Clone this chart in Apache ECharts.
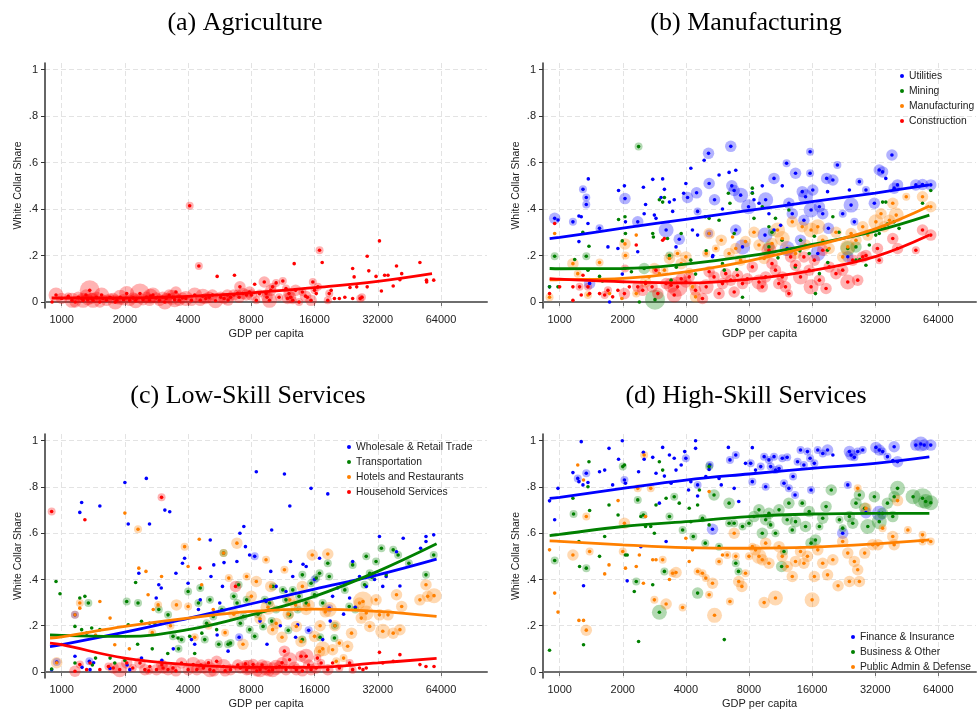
<!DOCTYPE html>
<html><head><meta charset="utf-8">
<script src="https://cdn.jsdelivr.net/npm/echarts@6/dist/echarts.min.js"></script>
<style>html,body{margin:0;padding:0;background:#fff}#c{width:977px;height:710px}</style>
</head><body><div id="c"></div>
<script>
// ---------- tick labels ----------
const xTicks = [1000, 2000, 4000, 8000, 16000, 32000, 64000];
const yTicks = [0, 0.2, 0.4, 0.6, 0.8, 1];

// ---------- data: [GDP per capita, white collar share, size class] ----------
const agriculture = [[900,0.0,0],[940,0.03,3],[1000,0.015,2],[1075,0.024,1],[1120,0.007,3],[1160,0.0,2],[1200,0.02,2],[1245,0.015,1],[1265,0.007,3],[1305,0.03,2],[1360,0.05,4],[1390,0.015,2],[1410,0.007,3],[1465,0.02,2],[1520,0.0,2],[1575,0.015,1],[1635,0.007,2],[1700,0.02,1],[1760,0.015,2],[1830,0.007,1],[1900,0.02,3],[1970,0.01,2],[2040,0.036,3],[2110,0.007,2],[2190,0.017,2],[2270,0.015,1],[2360,0.036,4],[2440,0.01,2],[2530,0.02,2],[2620,0.007,2],[2720,0.03,3],[2820,0.017,2],[2920,0.007,2],[3030,0.02,2],[3140,0.015,2],[3250,0.03,2],[3370,0.02,3],[3500,0.043,2],[3630,0.007,2],[3760,0.017,2],[3900,0.015,3],[4070,0.414,1],[4150,0.007,2],[4300,0.03,3],[4500,0.155,1],[4570,0.007,2],[4860,0.015,2],[5040,0.02,2],[5220,0.03,2],[5500,0.11,0],[5720,0.02,2],[5930,0.015,2],[6150,0.03,2],[6370,0.02,1],[6600,0.03,2],[6650,0.115,0],[6880,0.036,1],[7060,0.065,2],[7300,0.036,2],[7570,0.03,2],[7850,0.043,2],[8300,0.076,0],[8450,0.007,1],[8750,0.036,1],[9220,0.086,2],[9400,0.036,1],[9760,0.007,3],[9900,0.05,2],[10100,0.065,1],[10500,0.082,1],[10850,0.02,1],[11300,0.09,1],[11700,0.058,1],[11900,0.015,2],[12100,0.036,2],[12600,0.007,1],[12800,0.165,0],[13000,0.05,2],[13500,0.0,1],[14000,0.043,1],[14800,0.02,0],[15400,0.007,2],[15700,0.086,1],[16000,0.05,1],[16300,0.036,0],[16600,0.065,1],[16900,0.223,1],[17400,0.17,0],[18500,0.007,1],[18800,0.036,1],[19200,0.05,0],[19900,0.015,0],[21000,0.015,0],[22300,0.02,0],[23600,0.062,0],[24300,0.144,0],[24700,0.108,0],[24300,0.015,0],[25400,0.065,0],[26400,0.015,1],[26900,0.02,1],[28500,0.197,0],[29000,0.134,0],[28500,0.065,0],[31400,0.11,0],[32600,0.263,0],[33300,0.047,0],[34500,0.115,0],[35800,0.115,0],[37900,0.069,0],[39300,0.155,0],[40800,0.096,0],[41600,0.122,0],[50800,0.17,0],[54600,0.094,0],[54700,0.086,0],[59100,0.094,0],[1330,0.01,2],[1550,0.03,3],[1800,0.0,3],[2250,0.005,3],[2650,0.025,3],[3100,0.0,3],[3450,0.01,3],[4700,0.025,3],[5400,0.005,3],[6200,0.008,2],[7000,0.02,2],[8000,0.03,2],[9500,0.02,2],[12300,0.02,2],[14500,0.025,2]];

const utilities = [[947,0.36,2],[982,0.353,0],[1157,0.345,1],[1236,0.37,0],[1268,0.367,0],[1292,0.485,1],[1340,0.45,1],[1340,0.42,1],[1370,0.53,0],[1365,0.338,0],[1236,0.26,0],[1550,0.317,1],[1700,0.237,0],[1896,0.23,0],[1910,0.48,0],[2037,0.5,0],[2050,0.445,2],[2060,0.345,0],[2358,0.345,2],[2358,0.216,0],[2509,0.494,0],[2530,0.38,0],[2570,0.42,0],[2780,0.528,0],[2830,0.374,0],[2882,0.36,0],[3100,0.53,0],[3160,0.485,0],[3220,0.31,3],[3045,0.45,0],[3340,0.43,0],[3460,0.39,0],[3520,0.44,0],[3590,0.237,0],[3720,0.27,2],[3905,0.468,0],[4000,0.51,0],[4075,0.45,2],[4225,0.576,0],[4500,0.47,2],[4300,0.31,0],[4550,0.288,0],[4550,0.39,1],[4890,0.61,0],[5130,0.64,2],[5165,0.51,2],[5165,0.295,1],[5360,0.195,0],[5480,0.44,2],[5760,0.547,0],[5980,0.40,0],[6430,0.558,0],[6550,0.67,2],[6625,0.5,2],[6920,0.567,0],[6795,0.48,2],[7300,0.46,3],[7450,0.237,3],[6920,0.31,2],[7960,0.41,3],[8300,0.47,0],[8450,0.44,0],[8930,0.425,0],[9260,0.5,0],[9540,0.288,3],[9610,0.44,3],[9960,0.38,0],[10530,0.532,2],[10530,0.31,0],[11330,0.33,0],[11530,0.5,0],[12090,0.597,1],[12170,0.23,3],[12400,0.425,2],[12870,0.38,2],[13340,0.554,2],[14090,0.266,2],[14360,0.475,2],[14620,0.352,2],[14890,0.453,3],[15650,0.647,1],[15650,0.554,1],[15820,0.396,3],[16120,0.482,2],[17030,0.209,3],[17340,0.41,2],[17980,0.38,2],[18780,0.532,2],[18960,0.475,0],[19140,0.317,2],[20100,0.525,2],[21120,0.59,1],[22390,0.38,1],[23670,0.195,2],[24100,0.482,0],[24550,0.417,3],[25450,0.345,1],[26900,0.518,1],[28910,0.482,1],[31700,0.425,2],[33450,0.568,2],[34700,0.56,2],[35950,0.532,0],[38450,0.633,2],[39400,0.49,2],[40880,0.504,2],[50000,0.504,2],[53800,0.506,2],[58900,0.504,2],[895,0.065,0],[1390,0.08,2],[1730,0.0,0],[1990,0.12,0],[5380,0.2,0]];

const mining = [[947,0.197,1],[895,0.065,0],[982,0.065,0],[1180,0.183,0],[1290,0.30,0],[1340,0.197,1],[1365,0.137,0],[1380,0.24,0],[1550,0.11,0],[1910,0.355,0],[1990,0.263,0],[2050,0.367,0],[2060,0.295,0],[2380,0.669,1],[2400,0.0,0],[2530,0.144,2],[2780,0.295,0],[2800,0.28,0],[2850,0.01,4],[2990,0.44,0],[3100,0.43,0],[3160,0.45,0],[3340,0.2,1],[3270,0.273,0],[3400,0.094,0],[3800,0.295,0],[4220,0.18,0],[4450,0.12,0],[4950,0.367,0],[5165,0.36,0],[5760,0.352,0],[5980,0.165,0],[6100,0.137,0],[6380,0.468,0],[6490,0.425,0],[6800,0.295,0],[7450,0.02,0],[8300,0.49,0],[8300,0.468,0],[8450,0.36,0],[9260,0.41,0],[9960,0.324,0],[10300,0.3,1],[10700,0.36,0],[11500,0.266,0],[12400,0.396,0],[13300,0.151,0],[14100,0.266,0],[15500,0.209,0],[16400,0.283,0],[16600,0.036,0],[17340,0.122,0],[18960,0.223,0],[20100,0.367,0],[23670,0.23,3],[25900,0.18,0],[27000,0.183,0],[28900,0.158,0],[30000,0.245,0],[32200,0.288,0],[33450,0.295,0],[34700,0.43,0],[35950,0.43,0],[36600,0.335,0],[39400,0.345,0],[41600,0.317,0],[53800,0.425,0],[58900,0.48,0],[25900,0.237,2],[9960,0.237,2],[7000,0.14,0],[11000,0.19,0],[14000,0.22,0],[5000,0.22,0],[3600,0.15,0],[2200,0.13,0],[1600,0.09,0],[19000,0.17,0],[21500,0.3,0]];

const manufacturing = [[895,0.02,1],[947,0.295,0],[1157,0.165,2],[1220,0.122,1],[1365,0.03,1],[1550,0.17,1],[1730,0.036,0],[1980,0.015,0],[2050,0.25,2],[2060,0.2,1],[2320,0.288,0],[2320,0.036,1],[2570,0.086,2],[2670,0.108,0],[2830,0.144,2],[2990,0.122,0],[3160,0.137,1],[3340,0.187,2],[3650,0.209,1],[3800,0.165,2],[4000,0.194,2],[4150,0.13,1],[4300,0.065,1],[4450,0.022,2],[5000,0.209,1],[5165,0.295,2],[5560,0.23,1],[5900,0.266,2],[6430,0.209,2],[6680,0.28,0],[6920,0.23,2],[7300,0.18,2],[7700,0.26,2],[8450,0.3,2],[8930,0.245,2],[9450,0.187,2],[9960,0.209,2],[10300,0.252,2],[10950,0.31,3],[11530,0.273,3],[12170,0.223,2],[12870,0.345,2],[13340,0.209,2],[14360,0.324,2],[14890,0.245,2],[15820,0.31,3],[17030,0.324,3],[17980,0.266,2],[19300,0.23,2],[20800,0.3,2],[22390,0.194,2],[23670,0.237,3],[24550,0.295,2],[25900,0.266,2],[27900,0.324,2],[29500,0.288,2],[32250,0.345,3],[34100,0.38,2],[35300,0.324,2],[37400,0.352,2],[38800,0.425,2],[40300,0.374,3],[45000,0.453,1],[53800,0.453,2],[58900,0.41,2]];

const construction = [[895,0.036,0],[947,0.338,0],[1000,0.065,0],[1157,0.007,0],[1157,0.065,0],[1245,0.065,1],[1268,0.03,0],[1292,0.115,0],[1365,0.065,1],[1390,0.036,0],[1550,0.036,0],[1640,0.03,1],[1700,0.05,1],[1790,0.022,0],[1896,0.05,0],[2037,0.036,2],[2050,0.144,1],[2150,0.065,0],[2320,0.245,0],[2358,0.065,2],[2490,0.05,2],[2570,0.079,0],[2760,0.065,2],[2880,0.137,1],[2940,0.036,2],[3100,0.266,0],[3160,0.273,0],[3220,0.079,2],[3400,0.072,3],[3520,0.03,3],[3650,0.065,4],[3800,0.1,2],[4000,0.086,2],[4150,0.108,2],[4450,0.05,2],[4800,0.015,2],[5000,0.065,3],[5165,0.13,2],[5450,0.108,2],[5760,0.036,2],[5980,0.079,2],[6200,0.122,2],[6550,0.094,2],[6800,0.043,2],[7050,0.115,2],[7450,0.079,2],[7850,0.1,2],[8300,0.151,2],[8930,0.086,3],[9260,0.065,2],[9610,0.108,2],[9960,0.223,3],[10300,0.165,2],[10700,0.137,2],[11100,0.079,2],[11530,0.108,2],[11950,0.065,2],[12400,0.036,1],[12640,0.194,2],[13340,0.158,2],[14090,0.108,3],[14620,0.194,2],[15500,0.137,2],[15820,0.065,3],[16400,0.18,2],[17340,0.094,2],[17980,0.223,2],[18650,0.058,2],[19300,0.151,2],[20800,0.122,2],[22390,0.137,2],[23670,0.086,3],[25000,0.18,2],[26400,0.094,2],[27900,0.194,2],[28900,0.2,2],[32800,0.23,2],[33450,0.18,1],[38800,0.273,2],[40900,0.23,2],[50000,0.223,1],[53800,0.31,2],[58900,0.288,2]];

const wholesale = [[896,0.01,0],[947,0.043,1],[1157,0.068,0],[1220,0.69,0],[1245,0.733,0],[1157,0.247,1],[1355,0.046,1],[1365,0.01,0],[1520,0.718,0],[2000,0.819,0],[2075,0.64,0],[2110,0.01,0],[2330,0.427,0],[2530,0.837,0],[2620,0.64,0],[2820,0.32,0],[2900,0.377,0],[2980,0.363,0],[3100,0.70,0],[3270,0.693,0],[3500,0.427,0],[3760,0.47,0],[3850,0.492,0],[4000,0.384,0],[4150,0.14,0],[4480,0.27,0],[4570,0.312,0],[5100,0.571,0],[5140,0.413,0],[5300,0.463,0],[5660,0.298,0],[5930,0.473,0],[5830,0.37,0],[6830,0.478,0],[7060,0.6,0],[7370,0.629,0],[7500,0.542,0],[7850,0.506,0],[8300,0.5,1],[8450,0.866,0],[9400,0.305,0],[9900,0.435,0],[10000,0.614,0],[10500,0.37,0],[11500,0.856,0],[11700,0.348,0],[12200,0.718,0],[12300,0.478,0],[12600,0.413,0],[13300,0.204,0],[14100,0.466,0],[14600,0.456,0],[15400,0.794,0],[16000,0.4,1],[16900,0.492,0],[18500,0.77,0],[18800,0.276,1],[19500,0.327,0],[20600,0.363,0],[23500,0.32,0],[24300,0.478,0],[26200,0.413,0],[28200,0.37,0],[30900,0.4,0],[32600,0.586,0],[33800,0.37,0],[35100,0.413,0],[39300,0.52,0],[40800,0.372,0],[42300,0.578,0],[51200,0.535,0],[54300,0.586,0],[54300,0.564,0],[59100,0.593,0],[1250,0.02,0],[1420,0.04,0],[1700,0.015,0],[2050,0.03,0],[2400,0.06,0],[3000,0.05,0],[3400,0.1,0],[4300,0.12,0],[5500,0.16,0],[6200,0.09,0],[7000,0.15,1],[8800,0.22,0],[9500,0.12,0],[11000,0.2,0],[13000,0.15,0],[15000,0.18,1],[17500,0.14,0],[19000,0.22,0],[22000,0.25,0],[25000,0.28,0]];

const transportation = [[896,0.013,0],[940,0.391,0],[982,0.338,0],[1157,0.197,0],[1157,0.039,0],[1220,0.32,0],[1290,0.327,0],[1340,0.298,1],[1245,0.183,0],[1315,0.168,0],[1390,0.19,0],[1520,0.183,0],[1700,0.06,0],[1790,0.039,0],[2040,0.305,1],[2075,0.204,0],[2250,0.387,0],[2310,0.298,1],[2400,0.219,0],[2620,0.211,0],[2770,0.211,0],[2900,0.27,1],[3210,0.247,1],[3390,0.154,1],[3580,0.147,0],[3720,0.14,1],[4000,0.348,1],[4070,0.154,0],[4480,0.298,1],[4570,0.363,1],[4650,0.168,0],[4900,0.211,1],[5080,0.312,1],[5270,0.24,1],[5470,0.183,0],[5790,0.27,1],[5900,0.514,1],[6370,0.125,1],[6600,0.327,1],[6840,0.298,1],[6960,0.377,1],[7090,0.211,1],[7340,0.24,1],[7600,0.312,1],[7860,0.183,1],[8300,0.154,1],[9100,0.197,1],[9270,0.312,1],[9780,0.298,1],[10140,0.37,1],[10500,0.27,1],[11300,0.355,1],[11700,0.312,1],[12170,0.247,1],[12600,0.355,1],[13300,0.27,1],[13500,0.327,1],[14000,0.42,1],[14600,0.298,1],[15400,0.384,1],[16000,0.334,1],[16300,0.406,1],[16900,0.427,1],[17500,0.298,1],[18500,0.47,1],[18800,0.413,1],[19900,0.147,1],[22300,0.355,1],[23400,0.283,1],[24300,0.463,1],[25800,0.4,0],[27700,0.377,1],[28200,0.5,1],[29300,0.427,1],[31400,0.478,1],[33300,0.535,1],[35100,0.42,0],[37900,0.528,1],[40000,0.506,1],[54300,0.42,1],[59100,0.506,1],[1400,0.03,0],[1450,0.06,0],[2000,0.05,0],[2300,0.12,0],[2700,0.1,0],[3200,0.08,0],[3600,0.1,1],[4300,0.08,0],[4800,0.14,1],[5600,0.12,1],[6200,0.12,1],[8600,0.25,1],[10000,0.22,1],[12000,0.18,1],[14000,0.14,1],[17000,0.15,1],[20000,0.2,1],[25000,0.27,1],[30000,0.41,1],[45000,0.47,1]];

const hotels = [[947,0.04,2],[1157,0.247,1],[1220,0.298,1],[1220,0.276,0],[1520,0.305,0],[1700,0.233,0],[1790,0.118,0],[2000,0.687,0],[2310,0.617,1],[2330,0.449,0],[2520,0.435,0],[2580,0.334,0],[2730,0.27,0],[2880,0.29,1],[2990,0.413,0],[3520,0.29,2],[3850,0.542,1],[4000,0.456,0],[4000,0.283,1],[4520,0.574,0],[4640,0.377,0],[5270,0.27,0],[5900,0.514,1],[6250,0.406,1],[6830,0.557,2],[7600,0.413,1],[8000,0.327,2],[8450,0.391,2],[9400,0.485,1],[9900,0.37,2],[10100,0.183,2],[11500,0.442,1],[12200,0.312,2],[13100,0.197,2],[13800,0.132,2],[14600,0.27,2],[15600,0.506,2],[16000,0.154,2],[16900,0.089,2],[18500,0.51,2],[18800,0.27,3],[19500,0.096,2],[20300,0.046,1],[21000,0.125,1],[23000,0.111,2],[24000,0.168,2],[26200,0.298,2],[26700,0.233,2],[27200,0.305,4],[28200,0.255,3],[29300,0.197,2],[31400,0.312,2],[32600,0.247,2],[33800,0.176,3],[35800,0.247,2],[37900,0.168,2],[39300,0.334,2],[40800,0.183,2],[41600,0.283,2],[50800,0.312,2],[54300,0.377,2],[59300,0.33,3],[55300,0.327,2],[4300,0.15,1],[5000,0.2,1],[6000,0.17,1],[6600,0.25,2],[7300,0.12,2],[8800,0.23,2],[9600,0.28,3],[10500,0.21,2],[11200,0.15,2],[12000,0.25,2],[13000,0.29,2],[14000,0.37,2],[15000,0.29,2],[17000,0.2,2],[17500,0.1,3],[18000,0.26,2],[20000,0.2,2],[22000,0.06,1],[3300,0.2,1],[2700,0.17,1],[2100,0.1,0],[1450,0.16,0]];

const household = [[896,0.694,1],[1157,0.003,2],[1290,0.658,0],[1220,0.032,1],[1315,0.01,0],[1365,0.039,0],[1520,0.01,0],[1670,0.024,1],[1760,0.017,2],[1890,0.01,3],[2040,0.039,2],[2180,0.017,1],[2360,0.039,2],[2490,0.01,2],[2630,0.024,0],[2830,0.01,2],[2990,0.755,1],[3040,0.017,2],[3210,0.01,2],[3390,0.017,1],[3720,0.039,2],[4000,0.01,2],[4230,0.032,3],[4550,0.449,0],[4400,0.01,2],[4730,0.017,2],[5080,0.01,3],[5470,0.046,2],[5900,0.024,3],[6370,0.01,2],[6730,0.37,2],[7090,0.017,2],[7600,0.01,2],[8150,0.032,2],[8800,0.01,3],[9400,0.017,3],[10100,0.01,3],[10900,0.024,2],[11700,0.01,2],[12170,0.053,3],[13100,0.01,2],[13800,0.068,2],[14600,0.068,3],[15400,0.01,2],[16300,0.017,2],[17200,0.039,1],[18500,0.01,2],[19500,0.039,0],[21000,0.017,1],[23500,0.039,1],[24300,0.01,1],[26200,0.017,0],[27200,0.01,0],[28200,0.017,0],[32600,0.085,0],[33800,0.039,0],[37900,0.046,0],[40800,0.075,0],[50800,0.032,0],[54300,0.024,0],[59300,0.024,0],[4600,0.03,2],[5300,0.005,2],[6000,0.005,2],[6900,0.03,2],[7800,0.02,3],[8500,0.005,2],[9000,0.03,2],[9700,0.005,2],[10500,0.02,3],[11200,0.04,2],[12800,0.02,2],[14000,0.005,2],[15000,0.03,2],[3500,0.005,2],[3000,0.03,2],[2600,0.005,1],[5000,0.04,1],[16500,0.06,1],[11500,0.09,2],[7500,0.035,1]];

const finance = [[895,0.74,0],[947,0.658,0],[982,0.794,0],[1157,0.862,0],[1220,0.837,1],[1236,0.823,0],[1268,0.996,0],[1292,0.809,0],[1340,0.859,1],[1365,0.819,0],[1300,0.373,0],[1550,0.866,0],[1640,0.873,0],[1720,0.967,0],[1790,0.809,0],[1910,0.92,0],[1990,1.0,0],[2037,0.83,1],[2060,0.816,0],[2100,0.394,0],[2380,0.866,0],[2440,0.542,0],[2509,0.95,0],[2530,0.92,0],[2780,0.928,0],[2882,0.859,0],[2990,0.73,0],[3100,0.971,0],[3160,0.847,0],[3220,0.564,0],[3340,0.938,0],[3400,0.816,0],[3520,0.924,0],[3590,0.873,0],[3800,0.895,0],[3950,0.953,0],[4000,0.924,1],[4120,0.787,0],[4225,0.823,0],[4450,1.0,0],[4450,0.967,0],[4550,0.809,1],[4550,0.761,0],[4980,0.845,0],[5165,0.876,0],[5200,0.895,1],[5360,0.617,2],[5760,0.837,0],[5900,0.809,0],[6380,0.971,0],[6490,0.917,1],[6920,0.938,1],[6800,0.794,0],[7150,0.737,0],[7700,0.902,0],[8150,0.902,1],[8300,0.97,0],[8300,0.823,1],[8600,0.873,0],[9100,0.888,1],[9450,0.931,1],[9610,0.801,1],[9960,0.917,1],[10150,0.888,1],[10530,0.931,1],[10700,0.873,1],[11130,0.88,1],[11530,0.924,1],[11750,0.816,1],[12170,0.928,1],[12400,0.794,1],[12980,0.845,1],[13270,0.765,1],[13640,0.909,1],[14090,0.96,1],[14620,0.895,1],[15200,0.953,1],[15650,0.924,1],[15820,0.787,1],[16400,0.902,1],[17030,0.96,1],[17980,0.945,1],[18960,0.96,2],[20100,0.938,0],[22390,0.6,2],[23670,0.809,1],[24100,0.953,2],[24550,0.938,2],[25450,0.928,1],[26400,0.953,1],[27900,0.96,1],[28900,0.689,2],[32250,0.971,2],[33450,0.96,2],[34700,0.953,1],[36600,0.931,1],[38800,0.914,0],[39400,0.974,2],[40900,0.909,2],[33450,0.686,3],[50000,0.981,2],[52800,0.986,3],[54800,0.981,2],[58900,0.981,2]];

const business = [[895,0.094,0],[947,0.482,1],[1157,0.751,0],[1165,0.683,1],[1236,0.564,0],[1245,0.456,0],[1300,0.118,0],[1340,0.449,1],[1365,0.801,0],[1380,0.909,0],[1390,0.698,0],[1550,0.5,0],[1640,0.586,0],[1720,0.722,0],[1900,0.679,0],[2000,0.888,1],[2037,0.895,0],[2060,0.506,0],[2100,0.506,0],[2270,0.348,0],[2320,0.391,1],[2358,0.744,1],[2380,0.132,0],[2440,0.672,0],[2509,0.679,1],[2570,0.629,0],[2720,0.629,0],[2780,0.377,0],[2830,0.6,0],[2882,0.722,0],[2990,0.909,0],[2990,0.258,3],[3100,0.873,0],[3160,0.435,1],[3220,0.751,0],[3340,0.672,1],[3520,0.758,1],[3720,0.73,0],[3860,0.614,1],[4150,0.708,0],[4225,0.65,0],[4340,0.586,1],[4550,0.341,2],[4550,0.722,0],[4640,0.787,0],[4800,0.665,1],[4950,0.557,1],[5165,0.888,1],[5165,0.636,0],[5450,0.765,2],[5760,0.542,1],[6100,0.14,0],[6430,0.73,2],[6430,0.643,1],[6800,0.643,1],[6920,0.47,1],[7130,0.435,1],[7450,0.629,1],[8000,0.643,1],[8450,0.672,2],[8930,0.701,2],[9260,0.6,2],[9610,0.658,2],[9960,0.686,2],[10150,0.636,1],[10700,0.6,1],[11130,0.701,2],[11450,0.456,2],[11750,0.521,1],[12170,0.658,2],[12400,0.73,2],[12870,0.614,1],[13340,0.65,2],[14360,0.73,1],[14890,0.629,2],[15500,0.694,2],[15820,0.557,2],[16600,0.571,2],[17340,0.629,1],[17980,0.665,2],[18650,0.715,2],[19750,0.787,2],[21600,0.658,1],[22390,0.622,1],[24100,0.672,2],[25000,0.643,2],[25900,0.73,2],[26900,0.765,2],[28500,0.708,2],[29500,0.629,3],[31700,0.758,2],[33450,0.65,3],[34700,0.686,2],[36600,0.73,2],[38800,0.672,2],[39400,0.758,2],[40900,0.794,3],[48500,0.758,3],[53800,0.751,4],[55700,0.737,3],[58900,0.732,3]];

const publicAdmin = [[895,0.528,0],[947,0.341,0],[982,0.259,0],[1157,0.506,2],[1220,0.895,0],[1236,0.223,0],[1300,0.223,0],[1300,0.83,0],[1340,0.181,2],[1340,0.672,1],[1390,0.521,1],[1640,0.424,0],[1720,0.463,0],[1900,0.741,0],[2000,0.521,1],[2037,0.643,2],[2060,0.449,0],[2320,0.456,0],[2358,0.794,1],[2400,0.506,0],[2509,0.384,0],[2530,0.938,1],[2570,0.672,0],[2720,0.794,1],[2780,0.485,0],[2830,0.312,1],[2882,0.485,0],[3100,0.485,1],[3220,0.294,2],[3340,0.4,0],[3460,0.427,1],[3590,0.43,2],[3860,0.279,1],[4000,0.578,0],[4150,0.478,0],[4300,0.528,0],[4550,0.435,1],[4800,0.427,1],[4980,0.406,1],[5165,0.334,1],[5165,0.78,0],[5360,0.384,2],[5480,0.245,3],[5760,0.478,1],[5980,0.506,0],[6300,0.506,1],[6490,0.305,1],[6800,0.6,2],[6920,0.5,1],[7150,0.391,2],[7400,0.37,2],[7700,0.427,1],[8000,0.5,1],[8300,0.542,1],[8600,0.528,2],[8930,0.5,3],[9260,0.485,2],[9450,0.3,2],[9610,0.557,2],[9960,0.47,2],[10700,0.32,3],[11130,0.542,2],[11530,0.5,2],[12170,0.456,2],[12870,0.413,2],[13340,0.478,2],[14090,0.521,2],[14620,0.47,2],[15200,0.5,2],[16000,0.312,3],[16400,0.413,2],[17030,0.528,2],[17980,0.47,2],[18960,0.42,2],[20100,0.485,2],[21280,0.373,2],[22390,0.564,2],[23670,0.514,2],[24100,0.391,2],[25450,0.478,2],[26400,0.442,2],[26900,0.391,2],[28500,0.514,2],[26400,0.794,1],[28900,0.708,2],[31100,0.55,2],[33000,0.55,2],[34700,0.622,1],[38800,0.586,2],[39400,0.55,2],[40900,0.741,2],[45800,0.614,1],[53800,0.593,1],[58900,0.564,1],[53800,0.564,1]];

// ---------- fitted lines ----------
const fitGdpAB = [896, 1000, 2000, 4000, 8000, 16000, 32000, 58000];
const fitGdpC  = [880, 1000, 2000, 4000, 8000, 16000, 32000, 61000];
const fitGdpD  = [896, 1000, 2000, 4000, 8000, 16000, 32000, 58000];
const agricultureFit   = [0.017, 0.017, 0.017, 0.024, 0.039, 0.062, 0.089, 0.122];
const utilitiesFit     = [0.273, 0.278, 0.318, 0.356, 0.394, 0.432, 0.469, 0.504];
const miningFit        = [0.144, 0.143, 0.144, 0.163, 0.198, 0.248, 0.305, 0.374];
const manufacturingFit = [0.095, 0.096, 0.102, 0.130, 0.177, 0.240, 0.315, 0.413];
const constructionFit  = [0.100, 0.098, 0.087, 0.082, 0.098, 0.135, 0.195, 0.288];
const wholesaleFit      = [0.110, 0.118, 0.172, 0.232, 0.295, 0.358, 0.420, 0.488];
const transportationFit = [0.160, 0.158, 0.154, 0.183, 0.247, 0.327, 0.435, 0.554];
const hotelsFit         = [0.147, 0.152, 0.197, 0.233, 0.262, 0.272, 0.262, 0.240];
const householdFit      = [0.125, 0.118, 0.060, 0.032, 0.020, 0.020, 0.039, 0.059];
const financeFit  = [0.751, 0.755, 0.794, 0.830, 0.856, 0.880, 0.902, 0.930];
const businessFit = [0.590, 0.595, 0.629, 0.650, 0.672, 0.683, 0.686, 0.686];
const publicFit   = [0.567, 0.565, 0.550, 0.538, 0.535, 0.540, 0.554, 0.571];

// ---------- styling ----------
const BLUE = '#0000ff', GREEN = '#008000', ORANGE = '#ff8000', RED = '#ff0000';
const HALO = [0, 8, 11.5, 15, 20];
const SANS = 'Liberation Sans, Arial, sans-serif';
const SERIF = 'Liberation Serif, Times New Roman, serif';

const panels = [
  { title: '(a) Agriculture', cx: 245, ty: 10, grid: {left: 45, top: 63, width: 442, height: 245}, xMax: 106000,
    cats: [{name: 'Agriculture', color: RED, pts: agriculture, fit: agricultureFit, fitX: fitGdpAB}], legend: null },
  { title: '(b) Manufacturing', cx: 746, ty: 10, grid: {left: 543, top: 63, width: 433, height: 245}, xMax: 96800,
    cats: [
      {name: 'Utilities', color: BLUE, pts: utilities, fit: utilitiesFit, fitX: fitGdpAB},
      {name: 'Mining', color: GREEN, pts: mining, fit: miningFit, fitX: fitGdpAB},
      {name: 'Manufacturing', color: ORANGE, pts: manufacturing, fit: manufacturingFit, fitX: fitGdpAB},
      {name: 'Construction', color: RED, pts: construction, fit: constructionFit, fitX: fitGdpAB}],
    legend: {left: 900, top: 70} },
  { title: '(c) Low-Skill Services', cx: 248, ty: 383, grid: {left: 45, top: 434, width: 442, height: 244}, xMax: 106000,
    cats: [
      {name: 'Wholesale & Retail Trade', color: BLUE, pts: wholesale, fit: wholesaleFit, fitX: fitGdpC},
      {name: 'Transportation', color: GREEN, pts: transportation, fit: transportationFit, fitX: fitGdpC},
      {name: 'Hotels and Restaurants', color: ORANGE, pts: hotels, fit: hotelsFit, fitX: fitGdpC},
      {name: 'Household Services', color: RED, pts: household, fit: householdFit, fitX: fitGdpC}],
    legend: {left: 347, top: 441} },
  { title: '(d) High-Skill Services', cx: 746, ty: 383, grid: {left: 543, top: 434, width: 433, height: 244}, xMax: 96800,
    cats: [
      {name: 'Finance & Insurance', color: BLUE, pts: finance, fit: financeFit, fitX: fitGdpD},
      {name: 'Business & Other', color: GREEN, pts: business, fit: businessFit, fitX: fitGdpD},
      {name: 'Public Admin & Defense', color: ORANGE, pts: publicAdmin, fit: publicFit, fitX: fitGdpD}],
    legend: {left: 851, top: 631} }
];

function yFmt(v) {
  if (Math.abs(v) < 1e-9) return '0';
  if (Math.abs(v - 1) < 1e-9) return '1';
  return String(Math.round(v * 10) / 10).replace(/^0/, '');
}

const option = {animation: false, backgroundColor: '#fff', title: [], grid: [], xAxis: [], yAxis: [], series: [], legend: []};
const axisText = {color: '#222', fontSize: 11, fontFamily: SANS};
panels.forEach((p, i) => {
  option.title.push({text: p.title, left: p.cx, top: p.ty, textAlign: 'center', padding: 0,
    textStyle: {fontFamily: SERIF, fontSize: 26, fontWeight: 'normal', color: '#000'}});
  option.grid.push(Object.assign({containLabel: false}, p.grid));
  option.xAxis.push({gridIndex: i, type: 'log', logBase: 2, min: 833, max: p.xMax,
    name: 'GDP per capita', nameLocation: 'middle', nameGap: 20,
    nameTextStyle: {color: '#222', fontSize: 11, fontFamily: SANS},
    axisLine: {show: true, lineStyle: {color: '#6e6e6e', width: 2}},
    axisTick: {show: true, customValues: xTicks, length: 4, lineStyle: {color: '#6e6e6e', width: 1}},
    axisLabel: Object.assign({customValues: xTicks, margin: 6, formatter: v => String(Math.round(v))}, axisText),
    splitLine: {show: true, lineStyle: {type: [5, 3], color: '#e3e3e3', width: 1}}});
  option.yAxis.push({gridIndex: i, type: 'value', min: -0.026, max: 1.029,
    name: 'White Collar Share', nameLocation: 'middle', nameGap: 21,
    nameTextStyle: {color: '#222', fontSize: 10.5, fontFamily: SANS},
    axisLine: {show: true, onZero: false, lineStyle: {color: '#333', width: 1.5}},
    axisTick: {show: true, customValues: yTicks, length: 4, lineStyle: {color: '#333', width: 1}},
    axisLabel: Object.assign({customValues: yTicks, margin: 7, formatter: yFmt}, axisText),
    splitLine: {show: true, lineStyle: {type: [5, 3], color: '#e3e3e3', width: 1}}});
  // halos
  p.cats.forEach(c => {
    option.series.push({type: 'scatter', name: c.name + ' (weight)', xAxisIndex: i, yAxisIndex: i, silent: true,
      data: c.pts.filter(d => d[2] > 0), symbolSize: d => HALO[d[2]],
      itemStyle: {color: c.color, opacity: 0.3}, z: 2});
  });
  // dots
  p.cats.forEach(c => {
    option.series.push({type: 'scatter', name: c.name, xAxisIndex: i, yAxisIndex: i, silent: true,
      data: c.pts.map(d => [d[0], d[1]]), symbolSize: 3.6,
      itemStyle: {color: c.color, opacity: 1}, z: 3});
  });
  // fitted lines
  p.cats.forEach(c => {
    option.series.push({type: 'line', name: c.name + ' fit', xAxisIndex: i, yAxisIndex: i, silent: true,
      data: c.fitX.map((g, k) => [g, c.fit[k]]), smooth: 0.4, showSymbol: false, symbol: 'none',
      lineStyle: {color: c.color, width: 2.8}, z: 4});
  });
  if (p.legend) {
    option.legend.push({data: p.cats.map(c => c.name), orient: 'vertical', left: p.legend.left, top: p.legend.top,
      icon: 'circle', itemWidth: 4, itemHeight: 4, itemGap: 3, padding: 0, selectedMode: false,
      textStyle: {color: '#222', fontSize: 10.3, fontFamily: SANS, lineHeight: 12}});
  }
});

const chart = echarts.init(document.getElementById('c'), null, {renderer: 'canvas'});
chart.setOption(option);
</script>
</body></html>
